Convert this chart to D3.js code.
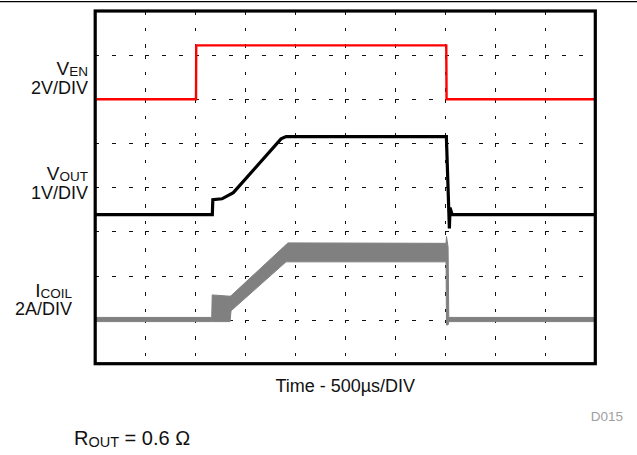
<!DOCTYPE html>
<html>
<head>
<meta charset="utf-8">
<script src="https://cdn.jsdelivr.net/npm/d3@7"></script>
<style>
  body { margin: 0; background: #fff; }
  svg text { font-family: "Liberation Sans", Arial, sans-serif; }
</style>
</head>
<body>
<div id="container"></div>
<script>
// scope screen: 10 x 8 divisions, 500us per division
const timeDivs = 10;
const ampDivs = 8;
const usPerDiv = 500;

// V_EN (2V/DIV), time in us
const venTime = [0, 1008, 1010, 3510, 3513, 5000];
const venVolts = [0, 0, 2.44, 2.44, 0, 0];

// V_OUT (1V/DIV)
const voutTime = [0, 1171, 1176, 1268, 1381, 1858, 1908, 3511, 3541, 3548, 3568, 5000];
const voutVolts = [0, 0, 0.34, 0.36, 0.50, 1.72, 1.77, 1.77, -0.31, 0.16, 0, 0];

// I_COIL (2A/DIV), ripple envelope
const icoilTime = [0, 1165, 1170, 1348, 1358, 1908, 1928, 3508, 3512, 3528, 3535, 5000];
const icoilHigh = [0.10, 0.10, 1.12, 1.06, 1.08, 3.40, 3.48, 3.46, 3.77, 3.30, 0.10, 0.10];
const icoilLow = [-0.09, -0.09, -0.09, -0.09, 0.40, 2.62, 2.62, 2.62, -0.24, -0.24, -0.09, -0.09];

const width = 637, height = 455;
const plotLeft = 95.2, plotRight = 595.3, plotTop = 11, plotBottom = 363.7;

let svg = d3.select("#container").append("svg")
  .attr("width", width)
  .attr("height", height);

let x = d3.scaleLinear().domain([0, timeDivs * usPerDiv]).range([plotLeft, plotRight]);
let gy = d3.scaleLinear().domain([0, ampDivs]).range([plotBottom, plotTop]);
let divW = (plotRight - plotLeft) / timeDivs;
let snap = v => Math.round(v) + 0.5;

// each trace has its own zero division and volts/div
let yVen = d3.scaleLinear().domain([0, 2]).range([gy(6), gy(7)]);
let yVout = d3.scaleLinear().domain([0, 1]).range([gy(3.38), gy(4.38)]);
let yCoil = d3.scaleLinear().domain([0, 2]).range([gy(1), gy(2)]);

// top rule
svg.append("line")
  .attr("x1", 0).attr("x2", width)
  .attr("y1", 1.6).attr("y2", 1.6)
  .attr("stroke", "#000").attr("stroke-width", 1.3);

// grid
let grid = svg.append("g")
  .attr("stroke", "#111")
  .attr("stroke-width", 1)
  .attr("shape-rendering", "crispEdges");
d3.range(1, ampDivs).forEach(j => {
  grid.append("line")
    .attr("x1", plotLeft).attr("x2", plotRight)
    .attr("y1", snap(gy(j))).attr("y2", snap(gy(j)))
    .attr("stroke-dasharray", "4," + (divW / 3 - 4));
});
d3.range(1, timeDivs).forEach(i => {
  d3.range(0, ampDivs).forEach(j => {
    grid.append("line")
      .attr("x1", snap(x(i * usPerDiv))).attr("x2", snap(x(i * usPerDiv)))
      .attr("y1", gy(j + 1)).attr("y2", gy(j))
      .attr("stroke-dasharray", "3.5," + (50 / 3 - 3.5));
  });
});

// traces
let coilArea = d3.area()
  .x((d, i) => x(icoilTime[i]))
  .y0((d, i) => yCoil(icoilLow[i]))
  .y1((d, i) => yCoil(icoilHigh[i]));

svg.append("path")
  .datum(icoilTime)
  .attr("d", coilArea)
  .attr("fill", "#808080")
  .attr("stroke", "#808080")
  .attr("stroke-width", 1);

let voutLine = d3.line()
  .x((d, i) => x(voutTime[i]))
  .y((d, i) => yVout(voutVolts[i]));

svg.append("path")
  .datum(voutTime)
  .attr("d", voutLine)
  .attr("fill", "none")
  .attr("stroke", "#000")
  .attr("stroke-width", 3.2);

let venLine = d3.line()
  .x((d, i) => x(venTime[i]))
  .y((d, i) => yVen(venVolts[i]));

svg.append("path")
  .datum(venTime)
  .attr("d", venLine)
  .attr("fill", "none")
  .attr("stroke", "#ff0000")
  .attr("stroke-width", 2.4);

// frame
svg.append("rect")
  .attr("x", plotLeft).attr("y", plotTop)
  .attr("width", plotRight - plotLeft).attr("height", plotBottom - plotTop)
  .attr("fill", "none")
  .attr("stroke", "#000")
  .attr("stroke-width", 3.2);

// channel labels
const labels = [
  { main: "V", sub: "EN", scale: "2V/DIV", xr: 88, y: 75 },
  { main: "V", sub: "OUT", scale: "1V/DIV", xr: 88, y: 180 },
  { main: "I", sub: "COIL", scale: "2A/DIV", xr: 72, y: 296.7 }
];
labels.forEach(l => {
  let t = svg.append("text")
    .attr("x", l.xr).attr("y", l.y)
    .attr("text-anchor", "end")
    .attr("fill", "#111");
  t.append("tspan").attr("font-size", 19).text(l.main);
  t.append("tspan").attr("font-size", 13.5).attr("dy", 1).text(l.sub);
  svg.append("text")
    .attr("x", l.xr).attr("y", l.y + 18.5)
    .attr("text-anchor", "end")
    .attr("font-size", 18)
    .attr("fill", "#111")
    .text(l.scale);
});

svg.append("text")
  .attr("x", (plotLeft + plotRight) / 2).attr("y", 391.5)
  .attr("text-anchor", "middle")
  .attr("font-size", 18)
  .attr("fill", "#111")
  .text("Time - 500µs/DIV");

svg.append("text")
  .attr("x", 623).attr("y", 421)
  .attr("text-anchor", "end")
  .attr("font-size", 13.5)
  .attr("fill", "#a0a0a0")
  .text("D015");

let r = svg.append("text")
  .attr("x", 74).attr("y", 445)
  .attr("fill", "#111");
r.append("tspan").attr("font-size", 20).text("R");
r.append("tspan").attr("font-size", 14.5).attr("dy", 1.7).text("OUT");
r.append("tspan").attr("font-size", 20).attr("dy", -1.7).text(" = 0.6 Ω");
</script>
</body>
</html>
